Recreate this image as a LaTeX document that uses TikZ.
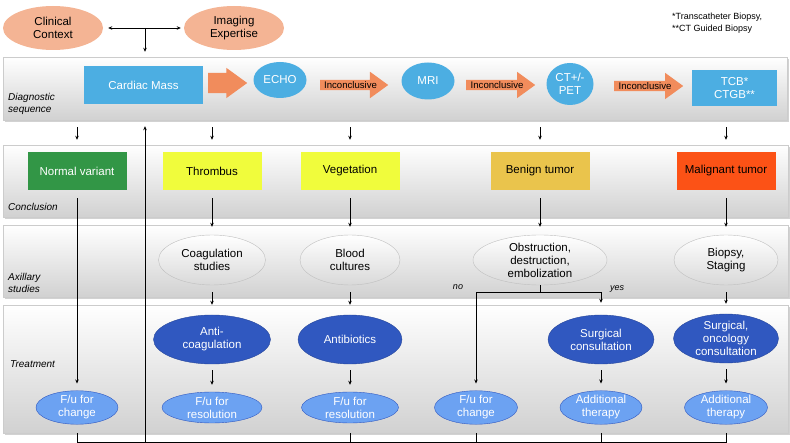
\documentclass[tikz,border=0pt]{standalone}
\usepackage{fontspec}
\setmainfont{Liberation Sans}
\usetikzlibrary{positioning,shapes.geometric,shapes.arrows,shadows,arrows.meta}

\definecolor{salmon}{RGB}{244,180,148}
\definecolor{skyblue}{RGB}{76,174,226}
\definecolor{arroworange}{RGB}{241,140,92}
\definecolor{nvgreen}{RGB}{50,150,70}
\definecolor{tyellow}{RGB}{240,252,60}
\definecolor{benigncol}{RGB}{234,196,76}
\definecolor{maligncol}{RGB}{252,82,22}
\definecolor{darkblue}{RGB}{48,88,192}
\definecolor{lightblue}{RGB}{108,162,242}

\tikzset{
  band/.style={rectangle, draw=gray!40, top color=white, bottom color=black!18,
    inner sep=0pt, drop shadow={shadow xshift=1.5pt, shadow yshift=-2pt, fill=gray!70}},
  lanelabel/.style={anchor=west, align=left, inner sep=0pt,
    font=\fontsize{10}{12}\selectfont\itshape},
  txt/.style={font=\fontsize{11.5}{13}\selectfont, align=center, inner sep=0pt},
  ctxoval/.style={txt, ellipse, fill=salmon, minimum width=100pt, minimum height=44pt},
  seqbox/.style={txt, rectangle, fill=skyblue, text=white},
  seqoval/.style={txt, ellipse, fill=skyblue, text=white},
  orarrow/.style={single arrow, fill=arroworange, anchor=tail,
    single arrow tip angle=72, font=\fontsize{9.6}{10}\selectfont},
  conclbox/.style={txt, rectangle, minimum width=99pt, minimum height=38pt},
  greyoval/.style={txt, ellipse, draw=gray!50, top color=white, bottom color=black!15,
    minimum height=50pt},
  treatoval/.style={txt, ellipse, fill=darkblue, draw=darkblue!80!black, text=white,
    minimum height=49pt},
  fuoval/.style={txt, ellipse, fill=lightblue, draw=darkblue, text=white,
    minimum height=31pt},
  conn/.style={line width=0.8pt, -{Stealth[length=4pt,width=3.5pt]}},
  plain/.style={line width=0.8pt}
}

\begin{document}
\begin{tikzpicture}[x=1pt,y=-1pt]
  \useasboundingbox (0,0) rectangle (790,443);

  % --- lanes ---
  \node[band, minimum width=784pt, minimum height=63pt]  (band1) at (395,88.5) {};
  \node[band, minimum width=785pt, minimum height=72pt]  (band2) at (395.5,181) {};
  \node[band, minimum width=785pt, minimum height=72pt]  (band3) at (395.5,261) {};
  \node[band, minimum width=785pt, minimum height=128pt] (band4) at (395.5,369) {};

  \node[lanelabel] (lab1) at (8,104) {Diagnostic\\sequence};
  \node[lanelabel] (lab2) at (8,207) {Conclusion};
  \node[lanelabel] (lab3) at (8,283) {Axillary\\studies};
  \node[lanelabel] (lab4) at (10,364) {Treatment};

  % --- top: context ---
  \node[ctxoval] (cc) at (53,28)  {Clinical\\Context};
  \node[ctxoval] (ie) at (234,28) {Imaging\\Expertise};
  \node[anchor=west, align=left, inner sep=0pt, font=\fontsize{9}{12}\selectfont]
    (note) at (672,23) {*Transcatheter Biopsy,\\**CT Guided Biopsy};

  % --- diagnostic sequence ---
  \node[seqbox, minimum width=119pt, minimum height=38pt] (cm) at (143.5,85) {Cardiac Mass};
  \node[orarrow, minimum height=39pt, inner xsep=0pt, inner ysep=10pt,
    single arrow head extend=5pt] (a0) at (208,83) {};
  \node[seqoval, minimum width=53pt, minimum height=36pt] (echo) at (280,80) {ECHO};
  \node[orarrow, minimum height=68pt, inner xsep=0.5pt, inner ysep=1.5pt,
    single arrow head extend=8pt] (a1) at (320,85) {Inconclusive};
  \node[seqoval, minimum width=53pt, minimum height=37pt] (mri) at (428,81) {MRI};
  \node[orarrow, minimum height=69pt, inner xsep=0.5pt, inner ysep=1.5pt,
    single arrow head extend=8pt] (a2) at (466,85) {Inconclusive};
  \node[seqoval, minimum width=47pt, minimum height=42pt] (ct) at (570,84) {CT+/-\\PET};
  \node[orarrow, minimum height=69pt, inner xsep=0.5pt, inner ysep=1.5pt,
    single arrow head extend=8pt] (a3) at (614,86) {Inconclusive};
  \node[seqbox, minimum width=85pt, minimum height=36pt] (tcb) at (734.5,88) {TCB*\\CTGB**};

  % --- conclusion ---
  \node[conclbox, fill=nvgreen, text=white] (nv) at (77,171)  {Normal variant};
  \node[conclbox, fill=tyellow]             (th) at (212,171) {Thrombus};
  \node[conclbox, fill=tyellow]             (ve) at (350,171) {Vegetation};
  \node[conclbox, fill=benigncol]           (bt) at (540,171) {Benign tumor};
  \node[conclbox, fill=maligncol]           (mt) at (726,171) {Malignant tumor};

  % --- axillary studies ---
  \node[greyoval, minimum width=107pt] (cs) at (212,260) {Coagulation\\studies};
  \node[greyoval, minimum width=100pt] (bc) at (350,260) {Blood\\cultures};
  \node[greyoval, minimum width=134pt] (ob) at (540,260) {Obstruction,\\destruction,\\embolization};
  \node[greyoval, minimum width=104pt] (bs) at (726,260) {Biopsy,\\Staging};

  % --- treatment ---
  \node[treatoval, minimum width=117pt] (ac) at (212,339.5) {Anti-\\coagulation};
  \node[treatoval, minimum width=104pt] (ab) at (350,339.5) {Antibiotics};
  \node[treatoval, minimum width=106pt] (sc) at (601,339.5) {Surgical\\consultation};
  \node[treatoval, minimum width=105pt] (so) at (726,338.5) {Surgical,\\oncology\\consultation};

  \node[fuoval, minimum width=82pt]  (fc1) at (77,407.5)  {F/u for\\change};
  \node[fuoval, minimum width=100pt] (fr1) at (212,407.5) {F/u for\\resolution};
  \node[fuoval, minimum width=97pt]  (fr2) at (350,407.5) {F/u for\\resolution};
  \node[fuoval, minimum width=83pt]  (fc2) at (476,407.5) {F/u for\\change};
  \node[fuoval, minimum width=82pt]  (at1) at (601,407.5) {Additional\\therapy};
  \node[fuoval, minimum width=83pt]  (at2) at (726,407.5) {Additional\\therapy};

  % --- connectors ---
  \draw[plain, {Stealth[length=4pt,width=3.5pt]}-{Stealth[length=4pt,width=3.5pt]},
    shorten <=5pt, shorten >=3pt] (cc) -- (ie);
  \coordinate (mid) at (145,28);
  \draw[conn, shorten >=5pt] (mid) -- (mid |- band1.north);

  \foreach \n in {nv,th,ve,bt,mt}
    \draw[conn, shorten <=7pt, shorten >=5pt] (\n |- band1.south) -- (\n |- band2.north);

  \foreach \a/\b in {th/cs,ve/bc,bt/ob,mt/bs}
    \draw[conn, shorten <=8pt, shorten >=8pt] (\a) -- (\b);

  \foreach \a/\b in {cs/ac,bc/ab,bs/so}
    \draw[conn, shorten <=7pt, shorten >=10pt] (\a) -- (\b);

  \foreach \a/\b in {ac/fr1,ab/fr2,sc/at1,so/at2}
    \draw[conn, shorten <=6pt, shorten >=7pt] (\a) -- (\b);

  \draw[conn, shorten <=8pt, shorten >=7pt] (nv) -- (fc1);

  % --- benign branch ---
  \draw[plain] (ob.south) -- ++(0,7) coordinate (split);
  \draw[conn, shorten >=7pt] (split) -| (fc2.north);
  \draw[conn, shorten >=12pt] (split) -| (sc.north);
  \node[font=\fontsize{9}{10}\selectfont\itshape, inner sep=0pt] (no)  at (458,287) {no};
  \node[font=\fontsize{9}{10}\selectfont\itshape, inner sep=0pt] (yes) at (617,289) {yes};

  % --- loop back ---
  \coordinate (loopy) at (0,442);
  \draw[plain] (fc1 |- band4.south) -- (fc1 |- loopy) -- (at2 |- loopy) -- (at2 |- band4.south);
  \foreach \n in {fr2,fc2,at1}
    \draw[plain] (\n |- band4.south) -- (\n |- loopy);
  \coordinate (ret) at (145,442);
  \draw[conn, shorten >=6pt] (ret) -- (ret |- band1.south);
\end{tikzpicture}
\end{document}
